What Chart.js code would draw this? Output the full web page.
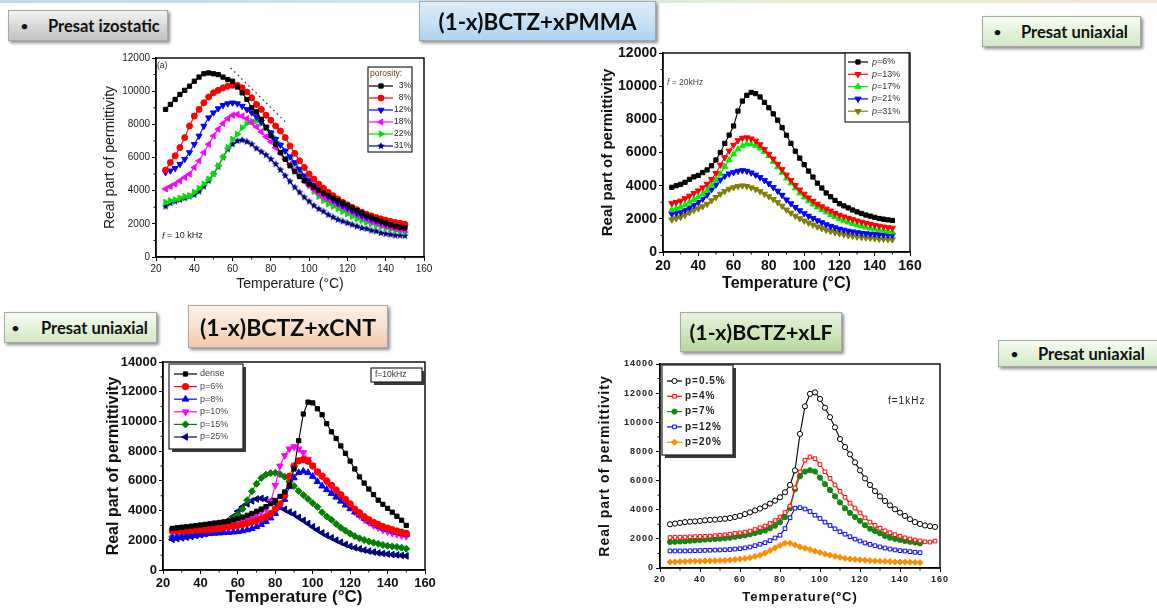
<!DOCTYPE html>
<html>
<head>
<meta charset="utf-8">
<script src="https://cdn.jsdelivr.net/npm/chart.js@4.4.1/dist/chart.umd.min.js"></script>
<style>
  body { margin: 0; width: 1157px; height: 612px; background: #fff; position: relative; overflow: hidden; }
  canvas { position: absolute; }
  .topline { position: absolute; left: 0; top: 0; width: 1157px; height: 3px;
    background: linear-gradient(to right, #b8dcef 0%, #cfe7f1 40%, #e4efcc 70%, #f5e2d2 100%); }
  .tag { position: absolute; box-sizing: border-box; display: flex; align-items: center;
    font-family: Lato, "Open Sans", sans-serif; font-weight: 700; color: #111; font-size: 16.5px;
    border: 1px solid #a8a8a8; box-shadow: 2px 2px 3px rgba(0,0,0,.45); white-space: nowrap; }
  .tag b { display: inline-block; font-size: 12px; }
  .title { justify-content: center; font-size: 22.4px; color: #0d0d0d; }
  .grey { background: linear-gradient(#f4f4f4, #d6d6d6 55%, #c2c2c2); }
  .green { background: linear-gradient(#f6fcf1, #e2f1d8 55%, #d1e8c2); }
  .blue { background: linear-gradient(#deedfa, #c4e0f6 55%, #aed3f0); }
  .peach { background: linear-gradient(#fdf0e7, #f9ddcb 55%, #f2c9b0); }
  .leaf { background: linear-gradient(#e7f3dd, #cde6b8 55%, #b5d898); }
</style>
</head>
<body>
<div class="topline"></div>
<canvas id="c1" width="333" height="243" style="left:102px;top:50px"></canvas>
<canvas id="c2" width="326" height="253" style="left:599px;top:40px"></canvas>
<canvas id="c3" width="336" height="256" style="left:104px;top:352px"></canvas>
<canvas id="c4" width="358" height="250" style="left:597px;top:355px"></canvas>

<div class="tag grey" style="left:8px;top:10px;width:160px;height:31px;padding-left:12px"><b style="width:27px">•</b>Presat izostatic</div>
<div class="tag title blue" style="left:419px;top:1px;width:237px;height:40px">(1-x)BCTZ+xPMMA</div>
<div class="tag green" style="left:982px;top:16px;width:159px;height:31px;padding-left:11px"><b style="width:27px">•</b>Presat uniaxial</div>
<div class="tag green" style="left:4px;top:312px;width:153px;height:31px;padding-left:7px"><b style="width:29px">•</b>Presat uniaxial</div>
<div class="tag title peach" style="left:188px;top:305px;width:200px;height:43px;font-size:23px">(1-x)BCTZ+xCNT</div>
<div class="tag title leaf" style="left:680px;top:312px;width:162px;height:40px;font-size:21.3px">(1-x)BCTZ+xLF</div>
<div class="tag green" style="left:998px;top:340px;width:165px;height:27px;padding-left:12px"><b style="width:27px">•</b>Presat uniaxial</div>

<script>
// ---- data ----
const temps = [25, 27.5, 30, 32.5, 35, 37.5, 40, 42.5, 45, 47.5, 50, 52.5, 55, 57.5, 60, 62.5, 65, 67.5, 70, 72.5,
  75, 77.5, 80, 82.5, 85, 87.5, 90, 92.5, 95, 97.5, 100, 102.5, 105, 107.5, 110, 112.5, 115, 117.5, 120, 122.5,
  125, 127.5, 130, 132.5, 135, 137.5, 140, 142.5, 145, 147.5, 150];
const tempsLong = temps.concat([152.5, 155, 157.5]);

// PMMA, presat izostatic, f = 10 kHz
const izoLabels = ["3%", "8%", "12%", "18%", "22%", "31%"];
const izo3 = [8900, 9200, 9500, 9800, 10050, 10300, 10600, 10850, 11050, 11100, 11050, 11000, 10850, 10700, 10600, 10250, 9900, 9500, 9000, 8750,
  8300, 7800, 7300, 6800, 6300, 5900, 5500, 5150, 4850, 4600, 4400, 4200, 4000, 3850, 3700, 3550, 3400, 3250, 3100, 2950,
  2800, 2650, 2500, 2400, 2250, 2150, 2050, 1950, 1850, 1800, 1750];
const izo8 = [5240, 5700, 6100, 6600, 7200, 7900, 8500, 8900, 9300, 9650, 9900, 10050, 10200, 10300, 10350, 10350, 10200, 9950, 9600, 9200,
  8900, 8550, 8250, 7900, 7600, 7200, 6700, 6250, 5800, 5400, 5000, 4700, 4400, 4150, 3900, 3700, 3500, 3300, 3150, 3000,
  2850, 2700, 2580, 2480, 2380, 2300, 2220, 2150, 2080, 2030, 1980];
const izo12 = [5100, 5200, 5350, 5600, 5900, 6300, 6800, 7300, 7900, 8400, 8700, 8950, 9150, 9250, 9300, 9250, 9100, 8900, 8700, 8450,
  8150, 7850, 7500, 7100, 6750, 6400, 6050, 5700, 5300, 4900, 4650, 4350, 4100, 3850, 3650, 3450, 3250, 3100, 2950, 2800,
  2650, 2500, 2400, 2300, 2200, 2100, 2000, 1950, 1880, 1820, 1780];
const izo18 = [4100, 4250, 4400, 4600, 4800, 5000, 5400, 5800, 6300, 6800, 7300, 7700, 8050, 8350, 8550, 8600, 8500, 8350, 8100, 7850,
  7550, 7250, 6950, 6600, 6250, 5900, 5600, 5250, 4900, 4550, 4300, 4050, 3800, 3600, 3450, 3300, 3150, 3000, 2850, 2700,
  2550, 2400, 2280, 2150, 2050, 1950, 1850, 1780, 1700, 1650, 1600];
const izo22 = [3300, 3400, 3450, 3550, 3650, 3700, 3900, 4150, 4400, 4700, 5000, 5500, 6000, 6600, 7100, 7400, 7800, 8050, 8200, 8200,
  8050, 7800, 7500, 7150, 6800, 6400, 6000, 5600, 5150, 4700, 4300, 3950, 3650, 3400, 3200, 3050, 2900, 2750, 2600, 2450,
  2300, 2200, 2100, 2000, 1900, 1820, 1750, 1680, 1600, 1550, 1500];
const izo31 = [3050, 3250, 3350, 3450, 3550, 3650, 3750, 3950, 4250, 4600, 5000, 5450, 6000, 6500, 6800, 7000, 7050, 6950, 6800, 6550,
  6350, 6150, 5900, 5600, 5250, 4900, 4550, 4200, 3900, 3600, 3350, 3100, 2900, 2750, 2550, 2400, 2250, 2150, 2050, 1950,
  1850, 1750, 1700, 1600, 1550, 1450, 1400, 1350, 1300, 1300, 1280];
// dotted guide through the peaks (two end points)
const guideT = [59, 88];
const guideV = [11400, 8100];

// PMMA, presat uniaxial, f = 20 kHz
const uniLabels = ["p=6%", "p=13%", "p=17%", "p=21%", "p=31%"];
const uni6 = [3900, 4000, 4080, 4200, 4380, 4530, 4620, 4790, 4950, 5200, 5550, 6000, 6550, 7050, 7600, 8500, 9100, 9450, 9620, 9550,
  9350, 9020, 8700, 8330, 7950, 7500, 7040, 6550, 6080, 5660, 5270, 4880, 4520, 4150, 3860, 3560, 3330, 3110, 2910, 2780,
  2660, 2530, 2420, 2320, 2230, 2160, 2090, 2020, 1980, 1940, 1900];
const uni13 = [2930, 3000, 3080, 3230, 3380, 3540, 3700, 3880, 4100, 4380, 4750, 5250, 5700, 6100, 6450, 6730, 6870, 6900, 6830, 6700,
  6480, 6200, 5900, 5620, 5300, 4980, 4650, 4330, 4020, 3750, 3500, 3270, 3070, 2900, 2740, 2600, 2480, 2340, 2230, 2130,
  2040, 1960, 1880, 1810, 1740, 1680, 1620, 1570, 1520, 1480, 1450];
const uni17 = [2530, 2620, 2710, 2850, 3000, 3150, 3320, 3500, 3730, 4000, 4320, 4700, 5150, 5550, 5900, 6200, 6400, 6520, 6500, 6420,
  6260, 6050, 5800, 5450, 5130, 4790, 4450, 4150, 3850, 3550, 3300, 3080, 2880, 2700, 2540, 2400, 2250, 2120, 2000, 1900,
  1800, 1710, 1630, 1560, 1490, 1430, 1370, 1320, 1280, 1240, 1200];
const uni21 = [2300, 2350, 2410, 2530, 2670, 2830, 3000, 3200, 3450, 3770, 4050, 4350, 4580, 4720, 4800, 4880, 4920, 4880, 4780, 4650,
  4500, 4320, 4130, 3900, 3680, 3430, 3150, 2920, 2700, 2500, 2320, 2170, 2040, 1900, 1780, 1660, 1560, 1470, 1390, 1330,
  1270, 1220, 1180, 1140, 1110, 1090, 1070, 1050, 1040, 1030, 1020];
const uni31 = [1950, 2020, 2100, 2230, 2380, 2520, 2620, 2740, 2890, 3100, 3300, 3500, 3660, 3800, 3890, 3960, 4000, 3970, 3880, 3780,
  3650, 3500, 3340, 3180, 2990, 2780, 2540, 2350, 2170, 2020, 1880, 1760, 1640, 1520, 1420, 1330, 1250, 1170, 1110, 1050,
  1000, 960, 920, 890, 860, 840, 810, 790, 780, 760, 750];

// CNT, f = 10 kHz
const cntLabels = ["dense", "p=6%", "p=8%", "p=10%", "p=15%", "p=25%"];
const cntDense = [2800, 2840, 2880, 2910, 2950, 2990, 3030, 3070, 3110, 3160, 3200, 3240, 3290, 3370, 3450, 3560, 3680, 3800, 3950, 4100,
  4260, 4460, 4680, 4950, 5250, 5700, 6800, 8700, 10500, 11300, 11250, 10850, 10450, 9850, 9300, 8850, 8350, 7850, 7330, 6800,
  6270, 5850, 5450, 5080, 4700, 4420, 4150, 3890, 3620, 3350, 3000];
const cnt6 = [2690, 2670, 2660, 2650, 2670, 2690, 2700, 2710, 2720, 2750, 2800, 2850, 2900, 2950, 3000, 3070, 3150, 3240, 3340, 3450,
  3580, 3800, 4100, 4450, 5000, 6300, 7000, 7350, 7440, 7320, 7000, 6600, 6320, 6000, 5700, 5380, 5070, 4750, 4450, 4100,
  3850, 3580, 3380, 3200, 3060, 2920, 2820, 2710, 2620, 2540, 2470];
const cnt8 = [2130, 2170, 2200, 2240, 2280, 2330, 2370, 2410, 2450, 2470, 2490, 2510, 2530, 2550, 2580, 2630, 2700, 2790, 2910, 3060,
  3250, 3500, 3800, 4200, 4750, 5600, 6200, 6550, 6650, 6550, 6300, 5950, 5650, 5400, 5150, 4900, 4630, 4370, 4120, 3900,
  3700, 3480, 3280, 3100, 2950, 2820, 2720, 2620, 2530, 2450, 2380];
const cnt10 = [2460, 2500, 2550, 2600, 2640, 2680, 2720, 2750, 2780, 2820, 2860, 2900, 2950, 3020, 3100, 3250, 3400, 3560, 3720, 3900,
  4100, 4600, 5700, 7000, 7700, 8150, 8300, 8150, 7900, 7450, 7050, 6650, 6300, 5900, 5600, 5200, 4880, 4550, 4230, 3900,
  3650, 3400, 3200, 3000, 2850, 2700, 2580, 2480, 2400, 2320, 2260];
const cnt15 = [2240, 2270, 2310, 2350, 2440, 2530, 2610, 2680, 2760, 2880, 3000, 3140, 3320, 3500, 3750, 4100, 4700, 5300, 5800, 6200,
  6420, 6520, 6540, 6450, 6280, 5950, 5650, 5320, 5050, 4780, 4500, 4250, 3880, 3600, 3380, 3100, 2850, 2650, 2450, 2280,
  2130, 2020, 1920, 1840, 1760, 1680, 1630, 1590, 1550, 1500, 1430];
const cnt25 = [2060, 2110, 2160, 2210, 2260, 2320, 2380, 2440, 2520, 2620, 2750, 2950, 3250, 3600, 3950, 4250, 4450, 4650, 4780, 4820,
  4750, 4650, 4500, 4270, 4080, 3900, 3760, 3540, 3340, 3130, 2910, 2700, 2500, 2320, 2170, 2010, 1860, 1720, 1600, 1500,
  1420, 1340, 1270, 1210, 1150, 1110, 1070, 1040, 1010, 980, 950];

// LF, f = 1 kHz
const lfLabels = ["p=0.5%", "p=4%", "p=7%", "p=12%", "p=20%"];
const lf05 = [3000, 3050, 3100, 3150, 3180, 3200, 3230, 3270, 3300, 3320, 3350, 3380, 3430, 3500, 3580, 3700, 3820, 3950, 4080, 4230,
  4420, 4620, 4850, 5200, 5700, 6700, 9200, 11100, 11950, 12050, 11600, 11000, 10350, 9650, 8850, 8300, 7800, 7250, 6700, 6150,
  5700, 5270, 4920, 4600, 4300, 4030, 3800, 3570, 3350, 3150, 3020, 2920, 2870, 2820];
const lf4 = [2090, 2100, 2110, 2120, 2140, 2150, 2160, 2170, 2190, 2220, 2250, 2280, 2320, 2370, 2410, 2460, 2530, 2640, 2760, 2880,
  3050, 3250, 3500, 3800, 4250, 5500, 6600, 7400, 7620, 7500, 7100, 6600, 6150, 5700, 5260, 4850, 4450, 4110, 3780, 3440,
  3150, 2920, 2730, 2550, 2420, 2290, 2180, 2070, 1990, 1920, 1860, 1800, 1780, 1850];
const lf7 = [1790, 1800, 1820, 1840, 1870, 1890, 1920, 1950, 1970, 1990, 2010, 2040, 2080, 2140, 2190, 2240, 2310, 2400, 2480, 2570,
  2720, 2900, 3140, 3500, 4100, 5400, 6300, 6620, 6710, 6620, 6200, 5750, 5350, 4920, 4500, 4100, 3780, 3500, 3240, 2940,
  2700, 2540, 2380, 2200, 2080, 2000, 1930, 1860, 1800, 1750, 1690];
const lf12 = [1170, 1170, 1170, 1170, 1180, 1190, 1200, 1210, 1220, 1230, 1240, 1250, 1270, 1300, 1330, 1380, 1440, 1530, 1630, 1740,
  1880, 2060, 2250, 2700, 3450, 4100, 4140, 4050, 3880, 3620, 3400, 3150, 2920, 2690, 2490, 2320, 2150, 1980, 1850, 1720,
  1620, 1530, 1450, 1370, 1300, 1240, 1190, 1160, 1120, 1080, 1050];
const lf20 = [410, 420, 440, 450, 460, 470, 470, 480, 490, 500, 510, 520, 550, 580, 610, 650, 710, 790, 870, 1020,
  1200, 1380, 1550, 1700, 1700, 1580, 1450, 1350, 1270, 1160, 1060, 970, 880, 800, 730, 660, 620, 590, 570, 540,
  510, 490, 470, 460, 440, 420, 410, 400, 390, 380, 370];

// ---- helpers ----
const FONT = '"Liberation Sans", Arial, sans-serif';
Chart.defaults.font.family = FONT;

// filled five-point star marker (Chart.js "star" is only an outline asterisk)
function starMarker(color, r) {
  const c = document.createElement("canvas");
  c.width = c.height = r * 2 + 2;
  const g = c.getContext("2d");
  g.fillStyle = color;
  g.beginPath();
  for (let i = 0; i < 10; i++) {
    const rr = i % 2 ? r * 0.45 : r;
    const a = -Math.PI / 2 + (i * Math.PI) / 5;
    g.lineTo(r + 1 + rr * Math.cos(a), r + 1 + rr * Math.sin(a));
  }
  g.closePath();
  g.fill();
  return c;
}

function series(xs, ys, label, st) {
  return {
    label,
    data: xs.map((t, i) => ({ x: t, y: ys[i] })),
    borderColor: st.color,
    backgroundColor: st.fill || st.color,
    pointBackgroundColor: st.fill || st.color,
    pointBorderColor: st.color,
    pointStyle: st.marker,
    pointRotation: st.rot || 0,
    pointRadius: st.r,
    pointBorderWidth: 1,
    borderWidth: 1.1,
    tension: 0,
  };
}

const framePlugin = {
  id: "frame",
  afterDraw(chart) {
    const { ctx, chartArea: a } = chart;
    ctx.save();
    ctx.strokeStyle = "#000";
    ctx.lineWidth = 1.4;
    ctx.strokeRect(a.left, a.top, a.right - a.left, a.bottom - a.top);
    // minor ticks half way between the major ones
    ctx.lineWidth = 1;
    ["x", "y"].forEach((id) => {
      const s = chart.scales[id];
      const t = s.ticks.map((k) => k.value);
      for (let i = 0; i < t.length - 1; i++) {
        const p = s.getPixelForValue((t[i] + t[i + 1]) / 2);
        ctx.beginPath();
        if (id === "x") { ctx.moveTo(p, a.bottom); ctx.lineTo(p, a.bottom + 2.5); }
        else { ctx.moveTo(a.left, p); ctx.lineTo(a.left - 2.5, p); }
        ctx.stroke();
      }
    });
    ctx.restore();
  },
};

function drawParts(ctx, parts, x, y, size, weight) {
  parts.forEach((p) => {
    ctx.font = (p.italic ? "italic " : "") + (weight || "normal") + " " + size + "px " + FONT;
    ctx.fillText(p.t, x, y);
    x += ctx.measureText(p.t).width;
  });
}

function framedBox(ctx, x0, y0, x1, y1, shadow) {
  if (shadow) { ctx.fillStyle = "#3a3a3a"; ctx.fillRect(x0 + 3, y0 + 3, x1 - x0, y1 - y0); }
  ctx.fillStyle = "#fff";
  ctx.fillRect(x0, y0, x1 - x0, y1 - y0);
  ctx.strokeStyle = "#222";
  ctx.lineWidth = 1.2;
  ctx.strokeRect(x0, y0, x1 - x0, y1 - y0);
}

// legend box placed in page coordinates
const boxLegendPlugin = {
  id: "boxLegend",
  afterDraw(chart, args, o) {
    if (!o || !o.box) return;
    const ctx = chart.ctx;
    const ox = chart.canvas.offsetLeft, oy = chart.canvas.offsetTop;
    ctx.save();
    framedBox(ctx, o.box[0] - ox, o.box[1] - oy, o.box[2] - ox, o.box[3] - oy, o.shadow);
    ctx.textBaseline = "middle";
    if (o.header) {
      ctx.fillStyle = o.headerColor;
      ctx.textAlign = "left";
      drawParts(ctx, [{ t: o.header }], o.box[0] + 2 - ox, o.headerY - oy, o.size);
    }
    chart.data.datasets.filter((d) => !d.hideInLegend).forEach((d, i) => {
      const y = o.firstRow + i * o.rowGap - oy;
      const l0 = o.line[0] - ox, l1 = o.line[1] - ox;
      ctx.strokeStyle = d.borderColor;
      ctx.lineWidth = 1.2;
      ctx.beginPath(); ctx.moveTo(l0, y); ctx.lineTo(l1, y); ctx.stroke();
      ctx.fillStyle = d.pointBackgroundColor;
      ctx.lineWidth = 1;
      Chart.helpers.drawPoint(ctx, { pointStyle: d.pointStyle, radius: d.pointRadius, rotation: d.pointRotation, borderWidth: 1 }, (l0 + l1) / 2, y);
      ctx.fillStyle = o.color;
      ctx.textAlign = "left";
      const parts = o.italicP ? [{ t: "p", italic: true }, { t: d.label.slice(1) }] : [{ t: d.label }];
      let tx = o.textX - ox;
      if (o.alignRight) {
        ctx.font = o.weight + " " + o.size + "px " + FONT;
        tx -= ctx.measureText(d.label).width;
      }
      drawParts(ctx, parts, tx, y, o.size, o.weight);
    });
    ctx.restore();
  },
};

// free text notes in page coordinates
const notesPlugin = {
  id: "notes",
  afterDraw(chart, args, o) {
    if (!o || !o.items) return;
    const ctx = chart.ctx;
    const ox = chart.canvas.offsetLeft, oy = chart.canvas.offsetTop;
    ctx.save();
    o.items.forEach((n) => {
      if (n.box) framedBox(ctx, n.box[0] - ox, n.box[1] - oy, n.box[2] - ox, n.box[3] - oy, true);
      ctx.fillStyle = n.color;
      ctx.textBaseline = "middle";
      ctx.textAlign = "left";
      drawParts(ctx, n.parts, n.x - ox, n.y - oy, n.size, n.weight);
    });
    ctx.restore();
  },
};

const spacingPlugin = {
  id: "spacing",
  beforeDraw(chart, args, o) {
    chart.ctx.letterSpacing = (o && o.px) || "0px";
  },
};

function makeChart(id, cfg) {
  const axis = (title, tickFont, titleFont, size, max, step) => ({
    type: "linear",
    min: title.startsWith("T") ? 20 : 0,
    max,
    ticks: {
      stepSize: step, font: tickFont, color: cfg.tickColor || "#111", padding: 2, maxRotation: 0, autoSkip: false,
      callback: (v) => String(v),
    },
    grid: { drawOnChartArea: false, tickLength: 4, color: "#000", lineWidth: 1 },
    border: { color: "#000", width: 1.4 },
    title: { display: true, text: title, font: titleFont, color: cfg.titleColor || "#111", padding: 0 },
    afterFit: (s) => { if (s.isHorizontal()) s.height = size; else s.width = size; },
  });
  return new Chart(document.getElementById(id), {
    type: "line",
    data: { datasets: cfg.datasets },
    options: {
      responsive: false,
      animation: false,
      devicePixelRatio: 1,
      layout: { padding: cfg.padding },
      plugins: {
        legend: { display: false },
        tooltip: { enabled: false },
        boxLegend: cfg.legend,
        notes: { items: cfg.notes },
        spacing: { px: cfg.spacing },
      },
      scales: {
        x: axis(cfg.xTitle, cfg.tickFont, cfg.titleFontX, cfg.xHeight, cfg.xMax, 20),
        y: axis("Real part of permittivity", cfg.tickFont, cfg.titleFontY, cfg.yWidth, cfg.yMax, 2000),
      },
    },
    plugins: [spacingPlugin, framePlugin, boxLegendPlugin, notesPlugin],
  });
}

// ---- chart 1: PMMA izostatic ----
const izoStyles = [
  { color: "#000000", marker: "rect", r: 3 },
  { color: "#ff0000", marker: "circle", r: 3 },
  { color: "#0000ff", marker: "triangle", rot: 180, r: 3.5 },
  { color: "#ff00ff", marker: "triangle", rot: 270, r: 3.5 },
  { color: "#00e000", marker: "triangle", rot: 90, r: 3.5 },
  { color: "#000080", marker: starMarker("#000080", 4), r: 4 },
];
const izoData = [izo3, izo8, izo12, izo18, izo22, izo31];
const izoSets = izoData.map((v, i) => series(temps, v, izoLabels[i], izoStyles[i]));
izoSets.push({
  label: "guide", hideInLegend: true,
  data: guideT.map((t, i) => ({ x: t, y: guideV[i] })),
  borderColor: "#333", borderDash: [1.5, 3.5], borderWidth: 1.3, pointRadius: 0,
});
makeChart("c1", {
  datasets: izoSets,
  padding: { top: 6, right: 11, left: 0, bottom: 0 },
  yWidth: 54, xHeight: 36, xMax: 160, yMax: 12000,
  tickFont: { size: 10 }, tickColor: "#222",
  titleFontY: { size: 14 }, titleFontX: { size: 14 }, titleColor: "#1a1a1a",
  xTitle: "Temperature (°C)",
  legend: {
    box: [368, 67, 412, 152], header: "porosity:", headerY: 74, headerColor: "#6b3d0a",
    firstRow: 86, rowGap: 12, line: [369, 393], textX: 411, alignRight: true,
    size: 8.5, weight: "normal", color: "#222",
  },
  notes: [
    { x: 157, y: 66, parts: [{ t: "(a)" }], size: 8.5, color: "#222" },
    { x: 162, y: 236, parts: [{ t: "f", italic: true }, { t: " = 10 kHz" }], size: 9, color: "#222" },
  ],
});

// ---- chart 2: PMMA uniaxial ----
const uniStyles = [
  { color: "#000000", marker: "rect", r: 3 },
  { color: "#ff0000", marker: "triangle", rot: 180, r: 3.5 },
  { color: "#00ee00", marker: "triangle", r: 3.5 },
  { color: "#0000ff", marker: "triangle", rot: 180, r: 3.5 },
  { color: "#808000", marker: "triangle", rot: 180, r: 3.5 },
];
const uniData = [uni6, uni13, uni17, uni21, uni31];
makeChart("c2", {
  datasets: uniData.map((v, i) => series(temps, v, uniLabels[i], uniStyles[i])),
  padding: { top: 13, right: 15, left: 0, bottom: 0 },
  yWidth: 64, xHeight: 41, xMax: 160, yMax: 12000,
  tickFont: { size: 14, weight: "bold" },
  titleFontY: { size: 15, weight: "bold" }, titleFontX: { size: 16, weight: "bold" },
  xTitle: "Temperature (°C)",
  legend: {
    box: [845, 53, 909, 122], firstRow: 62, rowGap: 12.3, line: [848, 868], textX: 872,
    italicP: true, size: 9, weight: "normal", color: "#333",
  },
  notes: [
    { x: 667, y: 83, parts: [{ t: "f", italic: true }, { t: " = 20kHz" }], size: 8.5, color: "#444" },
  ],
});

// ---- chart 3: CNT ----
const cntStyles = [
  { color: "#000000", marker: "rect", r: 3 },
  { color: "#ff0000", marker: "circle", r: 3.2 },
  { color: "#0000ff", marker: "triangle", r: 3.8 },
  { color: "#ff00ff", marker: "triangle", rot: 180, r: 3.8 },
  { color: "#008000", marker: "rectRot", r: 3.5 },
  { color: "#000080", marker: "triangle", rot: 270, r: 3.8 },
];
const cntData = [cntDense, cnt6, cnt8, cnt10, cnt15, cnt25];
makeChart("c3", {
  datasets: cntData.map((v, i) => series(temps, v, cntLabels[i], cntStyles[i])),
  padding: { top: 10, right: 15, left: 0, bottom: 0 },
  yWidth: 59, xHeight: 38, xMax: 160, yMax: 14000,
  tickFont: { size: 13, weight: "bold" },
  titleFontY: { size: 16, weight: "bold" }, titleFontX: { size: 17, weight: "bold" },
  xTitle: "Temperature (°C)",
  legend: {
    box: [169, 364, 243, 449], shadow: true, firstRow: 374, rowGap: 12.6, line: [174, 197], textX: 200,
    size: 9, weight: "normal", color: "#444",
  },
  notes: [
    { box: [371, 368, 422, 382], x: 375, y: 375, parts: [{ t: "f=10kHz" }], size: 8.5, color: "#333" },
  ],
});

// ---- chart 4: LF ----
const lfStyles = [
  { color: "#000000", fill: "#ffffff", marker: "circle", r: 2.6 },
  { color: "#ff0000", fill: "#ffffff", marker: "rect", r: 2.6 },
  { color: "#118811", marker: "circle", r: 2.6 },
  { color: "#0000ff", fill: "#ffffff", marker: "rect", r: 2.6 },
  { color: "#ff8c00", marker: "rectRot", r: 3 },
];
const lfData = [lf05, lf4, lf7, lf12, lf20];
const lfTemps = [tempsLong, tempsLong, temps, temps, temps];
makeChart("c4", {
  datasets: lfData.map((v, i) => series(lfTemps[i], v, lfLabels[i], lfStyles[i])),
  padding: { top: 9, right: 15, left: 0, bottom: 0 },
  yWidth: 63, xHeight: 37, xMax: 160, yMax: 14000,
  spacing: "1px",
  tickFont: { size: 9, weight: "bold" }, tickColor: "#222",
  titleFontY: { size: 14, weight: "bold" }, titleFontX: { size: 13, weight: "bold" },
  xTitle: "Temperature(ºC)",
  legend: {
    box: [662, 365, 733, 455], shadow: true, firstRow: 381, rowGap: 15.3, line: [667, 682], textX: 685,
    size: 10, weight: "bold", color: "#222",
  },
  notes: [
    { x: 888, y: 401, parts: [{ t: "f=1kHz" }], size: 10, color: "#222" },
  ],
});
</script>
</body>
</html>
